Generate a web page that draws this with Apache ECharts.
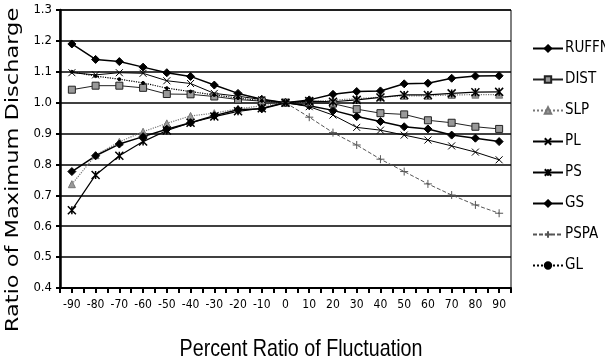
<!DOCTYPE html>
<html><head><meta charset="utf-8">
<script src="https://cdn.jsdelivr.net/npm/echarts@6/dist/echarts.min.js"></script>
<style>html,body{margin:0;padding:0;background:#fff}#c{width:605px;height:363px}</style>
</head><body><div id="c"></div>
<script>
const categories = ['-90','-80','-70','-60','-50','-40','-30','-20','-10','0','10','20','30','40','50','60','70','80','90'];
const yTicks = [0.4,0.5,0.6,0.7,0.8,0.9,1.0,1.1,1.2,1.3];
const RUFFN = [1.19,1.14,1.133,1.115,1.097,1.085,1.057,1.03,1.011,1.0,0.99,0.975,0.955,0.939,0.922,0.915,0.895,0.885,0.874];
const DIST  = [1.042,1.055,1.055,1.048,1.028,1.027,1.02,1.01,1.005,1.0,1.0,0.997,0.979,0.966,0.962,0.943,0.935,0.922,0.915];
const SLP   = [0.736,0.83,0.873,0.906,0.933,0.957,0.966,0.98,0.99,1.0,1.003,1.008,1.013,1.018,1.022,1.022,1.025,1.026,1.026];
const PL    = [1.097,1.09,1.097,1.095,1.071,1.062,1.03,1.021,1.01,1.0,0.987,0.96,0.92,0.911,0.895,0.879,0.86,0.84,0.815];
const PS    = [0.652,0.766,0.828,0.874,0.91,0.935,0.955,0.972,0.982,1.0,1.005,1.003,1.009,1.017,1.025,1.025,1.03,1.034,1.035];
const GS    = [0.777,0.828,0.866,0.89,0.914,0.935,0.958,0.977,0.98,1.0,1.009,1.027,1.036,1.038,1.061,1.063,1.079,1.086,1.087];
const PSPA  = [null,null,null,null,null,null,null,null,null,1.0,0.953,0.903,0.863,0.817,0.777,0.737,0.701,0.669,0.642];
const GL    = [1.10,1.086,1.076,1.064,1.047,1.036,1.025,1.015,1.006,1.0,null,null,null,null,null,null,null,null,null];

const NARROW = '"DejaVu Sans Condensed","Liberation Sans Narrow","Arial Narrow",sans-serif';
const X_SYM = 'path://M0,0L10,10M10,0L0,10';
const AST_SYM = 'path://M0,0L10,10M10,0L0,10M5,0L5,10';
const PLUS_SYM = 'path://M5,0L5,10M0,5L10,5';

function mk(name, data, o) {
  return {
    name, type:'line', data, connectNulls:false, animation:false,
    symbol:o.symbol, symbolSize:o.size||6,
    lineStyle:{color:o.color, width:o.width||1, type:o.type||'solid'},
    itemStyle:{color:o.fill||o.color, borderColor:o.color, borderWidth:o.bw||1},
    emphasis:{disabled:true}
  };
}

const chart = echarts.init(document.getElementById('c'), null, {renderer:'canvas'});
chart.setOption({
  backgroundColor:'#fff',
  animation:false,
  grid:{left:60, right:94, top:10, bottom:75, show:true, borderColor:'#000', borderWidth:1, containLabel:false},
  legend:{
    orient:'vertical', left:527, top:36, itemWidth:30, itemHeight:8, itemGap:16,
    textStyle:{fontFamily:NARROW, fontSize:15, color:'#000', padding:[0,0,0,-3]},
    selectedMode:false,
    data:['RUFFN','DIST','SLP','PL','PS','GS','PSPA','GL']
  },
  xAxis:[{
    type:'category', data:categories, boundaryGap:true, position:'bottom',
    axisLine:{lineStyle:{color:'#000', width:2}},
    axisTick:{show:true, interval:0, length:5, lineStyle:{color:'#000', width:2}},
    axisLabel:{interval:0, fontFamily:NARROW, fontSize:12, color:'#000', margin:11},
    splitLine:{show:false}
  },{
    type:'category', data:categories, boundaryGap:true, position:'bottom',
    axisLine:{show:false},
    axisTick:{show:true, interval:0, alignWithLabel:true, length:5, lineStyle:{color:'#000', width:2}},
    axisLabel:{show:false}, splitLine:{show:false}
  }],
  yAxis:{
    type:'value', min:0.4, max:1.3, interval:0.1,
    axisLine:{show:true, lineStyle:{color:'#000', width:2.5}},
    axisTick:{show:true, length:4, lineStyle:{color:'#000', width:2}},
    axisLabel:{fontFamily:NARROW, fontSize:13, color:'#000', margin:8, formatter:v=>v.toFixed(1)},
    splitLine:{show:true, lineStyle:{color:'#000', width:1.5}}
  },
  graphic:[
    {type:'text', x:13, y:170, rotation:Math.PI/2, scaleX:1.25,
      style:{text:'Ratio of Maximum Discharge', x:0, y:0, fontFamily:'"DejaVu Sans",sans-serif', fontSize:18, fill:'#000', align:'center', verticalAlign:'middle'}},
    {type:'text', x:301, y:349, scaleX:0.82,
      style:{text:'Percent Ratio of Fluctuation', x:0, y:0, fontFamily:'"Liberation Sans",sans-serif', fontSize:24, fill:'#000', align:'center', verticalAlign:'middle'}}
  ],
  series:[
    mk('RUFFN', RUFFN, {symbol:'diamond', size:8, color:'#000', width:1.5}),
    mk('DIST', DIST, {symbol:'rect', size:7, color:'#222', fill:'#999', width:1}),
    mk('SLP', SLP, {symbol:'triangle', size:7, color:'#777', fill:'#999', width:1.2, type:'dotted'}),
    mk('PL', PL, {symbol:X_SYM, size:7, color:'#000', width:1}),
    mk('PS', PS, {symbol:AST_SYM, size:8, color:'#000', width:1.2, bw:1.5}),
    mk('GS', GS, {symbol:'diamond', size:8, color:'#000', width:1.5}),
    mk('PSPA', PSPA, {symbol:PLUS_SYM, size:8, color:'#555', width:1, type:[4,2]}),
    mk('GL', GL, {symbol:'circle', size:3, color:'#000', width:1.2, type:'dotted'})
  ]
});
</script></body></html>
